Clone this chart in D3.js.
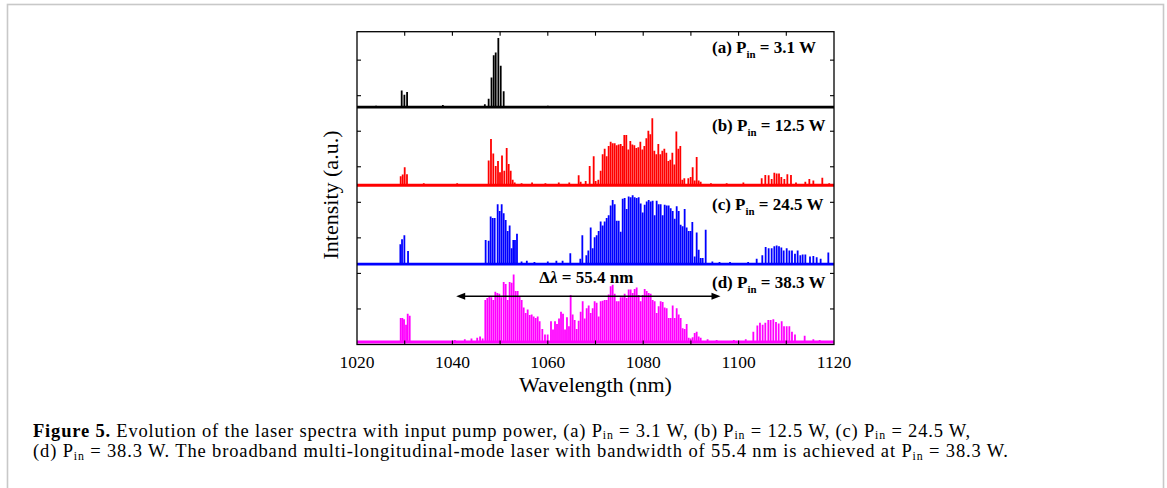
<!doctype html>
<html>
  <head>
    <script src="https://cdnjs.cloudflare.com/ajax/libs/d3/7.8.5/d3.min.js"></script>
    <style>
      body { margin: 0; background: #fff; }
      svg text { font-family: "Liberation Serif", "Times New Roman", serif; fill: #000; }
      rect.frame { fill: none; stroke: #c8c8c8; stroke-width: 1.6; }
      rect.plotbox { fill: none; stroke: #000; stroke-width: 1.3; }
      line.tick { stroke: #000; stroke-width: 1.1; }
      text.ticklabel { font-size: 17.5px; }
      text.axistitle { font-size: 22px; }
      text.panel { font-size: 17px; font-weight: bold; }
      text.caption { font-size: 18.5px; }
      line.arrow { stroke: #000; stroke-width: 1.4; }
    </style>
  </head>
  <body>
    <svg width="1167" height="488"></svg>
    <script>
      // tick labels and the four pump powers
      var xTicks = [1020, 1040, 1060, 1080, 1100, 1120];
      var panels = ["(a)", "(b)", "(c)", "(d)"];
      var pumpPower = [3.1, 12.5, 24.5, 38.3];
      var colors = ["#000000", "#ff0000", "#0000ff", "#ff00ff"];

      // longitudinal modes: [wavelength nm, relative intensity]
      var specA = [
        [1024.0, 0.02], [1038.0, 0.03], [1046.8, 0.04],
        [1029.37, 0.24], [1029.93, 0.18], [1030.5, 0.22],
        [1047.6, 0.12], [1048.2, 0.43], [1048.66, 0.75], [1049.08, 0.79],
        [1049.63, 1.0], [1050.13, 0.6], [1050.75, 0.23], [1060.0, 0.02]
      ];
      var specB = [
        [1034.0, 0.03], [1041.0, 0.03],
        [1029.16, 0.13], [1029.58, 0.155], [1030.0, 0.26], [1030.48, 0.16],
        [1047.6, 0.36], [1048.09, 0.67], [1048.57, 0.46], [1049.08, 0.28], [1049.56, 0.35],
        [1049.98, 0.19], [1050.4, 0.43], [1050.88, 0.21], [1051.38, 0.54], [1051.8, 0.31],
        [1052.22, 0.21], [1052.64, 0.08], [1053.06, 0.04],
        [1054.5, 0.03], [1056.7, 0.04], [1059.5, 0.03], [1062.3, 0.04], [1064.5, 0.04],
        [1066.47, 0.145], [1066.89, 0.05], [1067.94, 0.06], [1068.78, 0.28], [1069.62, 0.42],
        [1070.03, 0.06], [1070.59, 0.08], [1071.08, 0.21], [1071.5, 0.45], [1071.92, 0.53],
        [1072.34, 0.42], [1072.76, 0.57], [1073.18, 0.63], [1073.6, 0.61], [1074.02, 0.61],
        [1074.44, 0.58], [1074.86, 0.59], [1075.28, 0.6], [1075.7, 0.57], [1076.04, 0.73],
        [1076.46, 0.73], [1076.88, 0.52], [1077.3, 0.64], [1077.72, 0.59], [1078.14, 0.58],
        [1078.56, 0.54], [1078.98, 0.55], [1079.4, 0.63], [1079.82, 0.52], [1080.24, 0.57],
        [1080.66, 0.68], [1081.08, 0.79], [1081.49, 0.74], [1081.91, 0.97], [1082.33, 0.5],
        [1082.75, 0.45], [1083.17, 0.6], [1083.59, 0.45], [1084.01, 0.5], [1084.43, 0.53],
        [1084.85, 0.47], [1085.27, 0.35], [1085.69, 0.37], [1086.11, 0.47], [1086.53, 0.3],
        [1086.95, 0.78], [1087.37, 0.53], [1087.78, 0.57], [1088.2, 0.08], [1088.62, 0.1],
        [1089.46, 0.1], [1089.95, 0.12], [1090.37, 0.26], [1090.79, 0.07], [1091.21, 0.41],
        [1091.63, 0.07], [1092.05, 0.05], [1094.2, 0.03], [1097.5, 0.03], [1101.0, 0.04],
        [1104.84, 0.1], [1105.6, 0.15], [1106.3, 0.145], [1106.93, 0.09], [1107.49, 0.18],
        [1107.98, 0.17], [1108.47, 0.17], [1108.96, 0.12], [1109.59, 0.09], [1110.22, 0.16],
        [1110.98, 0.15], [1112.03, 0.04], [1113.99, 0.05], [1114.83, 0.09], [1115.67, 0.07],
        [1117.55, 0.11], [1119.0, 0.03]
      ];
      var specC = [
        [1029.09, 0.29], [1029.44, 0.36], [1029.93, 0.42], [1030.7, 0.19],
        [1046.97, 0.35], [1047.6, 0.34], [1048.02, 0.69], [1048.44, 0.67], [1048.86, 0.67],
        [1049.49, 0.87], [1049.91, 0.77], [1050.33, 0.87], [1050.75, 0.74], [1051.17, 0.64],
        [1051.59, 0.48], [1052.0, 0.56], [1052.42, 0.23], [1052.77, 0.35], [1053.12, 0.35],
        [1053.54, 0.44],
        [1054.5, 0.04], [1055.6, 0.05], [1057.2, 0.03], [1060.0, 0.04], [1061.8, 0.05], [1063.1, 0.05],
        [1064.72, 0.16], [1066.82, 0.08], [1067.24, 0.42], [1068.08, 0.13], [1068.5, 0.2],
        [1068.99, 0.53], [1069.41, 0.23], [1069.82, 0.39], [1070.24, 0.42], [1070.66, 0.48],
        [1071.08, 0.62], [1071.5, 0.56], [1071.92, 0.62], [1072.34, 0.67], [1072.76, 0.71],
        [1073.18, 0.85], [1073.6, 0.93], [1074.02, 0.87], [1074.44, 0.63], [1074.86, 0.63],
        [1075.28, 0.47], [1075.7, 0.95], [1076.11, 0.96], [1076.53, 0.8], [1076.95, 0.98],
        [1077.37, 0.97], [1077.79, 1.0], [1078.21, 0.97], [1078.63, 0.96], [1079.05, 0.97],
        [1079.47, 0.88], [1079.89, 0.75], [1080.31, 0.86], [1080.73, 0.91], [1081.15, 0.93],
        [1081.57, 0.91], [1081.98, 0.92], [1082.4, 0.71], [1082.82, 0.92], [1083.24, 0.87],
        [1083.66, 0.87], [1084.08, 0.71], [1084.5, 0.86], [1084.92, 0.85], [1085.34, 0.85],
        [1085.76, 0.81], [1086.18, 0.77], [1086.6, 0.66], [1087.02, 0.84], [1087.44, 0.77],
        [1087.85, 0.57], [1088.27, 0.55], [1088.69, 0.8], [1089.11, 0.53], [1089.53, 0.48],
        [1089.95, 0.48], [1090.3, 0.61], [1090.79, 0.11], [1091.21, 0.46], [1091.63, 0.21],
        [1092.05, 0.09], [1092.47, 0.09], [1093.1, 0.5],
        [1094.5, 0.04], [1096.0, 0.03], [1098.2, 0.03], [1102.0, 0.03],
        [1103.79, 0.08], [1104.97, 0.13], [1105.67, 0.25], [1106.3, 0.23], [1106.93, 0.23],
        [1107.49, 0.26], [1107.98, 0.27], [1108.47, 0.26], [1108.96, 0.24], [1109.45, 0.2],
        [1110.08, 0.23], [1110.64, 0.2], [1111.19, 0.2], [1111.82, 0.15], [1112.38, 0.2],
        [1112.94, 0.13], [1113.43, 0.14], [1113.99, 0.14], [1114.97, 0.11], [1115.67, 0.12],
        [1116.37, 0.1], [1117.2, 0.08], [1118.81, 0.17]
      ];
      var specD = [
        [1029.16, 0.35], [1029.51, 0.35], [1029.86, 0.33], [1030.28, 0.25], [1030.63, 0.41],
        [1031.05, 0.38],
        [1040.5, 0.03], [1042.6, 0.04], [1044.0, 0.05], [1045.2, 0.06], [1045.8, 0.08],
        [1046.34, 0.05], [1046.9, 0.61], [1047.32, 0.64], [1047.74, 0.66], [1048.16, 0.65],
        [1048.58, 0.61], [1049.0, 0.73], [1049.42, 0.71], [1049.84, 0.7], [1050.26, 0.65],
        [1050.75, 0.87], [1051.17, 0.84], [1051.59, 0.61], [1052.0, 0.87], [1052.42, 0.86],
        [1052.84, 0.98], [1053.26, 0.74], [1053.68, 0.74], [1054.1, 0.66], [1054.52, 0.61],
        [1054.94, 0.5], [1055.36, 0.42], [1055.78, 0.47], [1056.2, 0.39], [1056.62, 0.4],
        [1057.04, 0.37], [1057.46, 0.35], [1057.88, 0.37], [1058.29, 0.3], [1058.85, 0.19],
        [1059.41, 0.11], [1059.97, 0.11], [1060.67, 0.3], [1061.09, 0.18], [1061.51, 0.3],
        [1061.93, 0.26], [1062.35, 0.34], [1062.77, 0.44], [1063.19, 0.41], [1063.61, 0.18],
        [1064.02, 0.36], [1064.44, 0.23], [1064.79, 0.68], [1065.21, 0.4], [1065.63, 0.32],
        [1066.05, 0.19], [1066.47, 0.31], [1066.89, 0.44], [1067.31, 0.59], [1067.73, 0.34],
        [1068.15, 0.49], [1068.57, 0.53], [1068.99, 0.42], [1069.41, 0.49], [1069.82, 0.59],
        [1070.24, 0.57], [1070.66, 0.37], [1071.08, 0.59], [1071.5, 0.6], [1071.92, 0.61],
        [1072.34, 0.61], [1072.76, 0.69], [1073.18, 0.81], [1073.6, 0.83], [1074.02, 0.7],
        [1074.44, 0.59], [1074.86, 0.59], [1075.28, 0.65], [1075.7, 0.65], [1076.11, 0.7],
        [1076.53, 0.64], [1076.95, 0.76], [1077.37, 0.76], [1077.79, 0.71], [1078.21, 0.77],
        [1078.63, 0.79], [1079.05, 0.68], [1079.47, 0.59], [1079.89, 0.68], [1080.31, 0.77],
        [1080.73, 0.74], [1081.15, 0.71], [1081.57, 0.7], [1081.98, 0.61], [1082.4, 0.59],
        [1082.82, 0.42], [1083.24, 0.52], [1083.66, 0.59], [1084.08, 0.58], [1084.5, 0.5],
        [1084.92, 0.49], [1085.34, 0.35], [1085.76, 0.35], [1086.18, 0.53], [1086.6, 0.35],
        [1087.02, 0.49], [1087.44, 0.4], [1087.85, 0.35], [1088.27, 0.2], [1088.69, 0.19],
        [1089.11, 0.26], [1089.53, 0.06], [1089.95, 0.05], [1090.37, 0.07], [1090.79, 0.13],
        [1091.21, 0.15], [1091.63, 0.08], [1092.05, 0.06],
        [1093.5, 0.04], [1095.4, 0.03], [1099.0, 0.03], [1101.5, 0.04],
        [1103.09, 0.15], [1103.93, 0.24], [1104.48, 0.28], [1105.04, 0.25], [1105.6, 0.28],
        [1106.23, 0.32], [1106.72, 0.32], [1107.28, 0.33], [1107.84, 0.29], [1108.4, 0.27],
        [1109.03, 0.3], [1109.52, 0.23], [1110.08, 0.23], [1110.64, 0.23], [1111.19, 0.15],
        [1111.82, 0.11], [1113.85, 0.09], [1115.67, 0.04], [1117.0, 0.03]
      ];
      var spectra = [specA, specB, specC, specD];

      // bandwidth arrow for (d)
      var bandStart = 1040.8;
      var bandWidth = 55.4;

      drawChart();

      function drawChart() {
        var svg = d3.select("svg");
        var pL = 357, pR = 834, pT = 31.7, pB = 344.5;

        // outer page frame
        svg.append("rect").attr("class", "frame")
          .attr("x", 7.5).attr("y", 4.5).attr("width", 1156).attr("height", 520);

        var x = d3.scaleLinear().domain([1020, 1120]).range([pL, pR]);
        var y = d3.scaleLinear().domain([0, 8.8]).range([pB, pT]);

        var baseOffsets = [6.68, 4.48, 2.26, 0.07];
        var amp = 1.94;

        svg.append("clipPath").attr("id", "clip")
          .append("rect").attr("x", pL).attr("y", pT).attr("width", pR - pL).attr("height", pB - pT);

        var plot = svg.append("g").attr("clip-path", "url(#clip)");

        spectra.forEach(function (spec, i) {
          var g = plot.append("g");
          var b = baseOffsets[i];
          g.append("line")
            .attr("x1", x(1020)).attr("x2", x(1120))
            .attr("y1", y(b)).attr("y2", y(b))
            .attr("stroke", colors[i]).attr("stroke-width", 2.8);
          g.selectAll("line.mode").data(spec)
            .enter()
            .append("line")
              .attr("class", "mode")
              .attr("x1", d => x(d[0])).attr("x2", d => x(d[0]))
              .attr("y1", y(b))
              .attr("y2", d => y(b + d[1] * amp))
              .attr("stroke", colors[i])
              .attr("stroke-width", 1.8);
        });

        // plot box
        svg.append("rect").attr("class", "plotbox")
          .attr("x", pL).attr("y", pT).attr("width", pR - pL).attr("height", pB - pT);

        // inward ticks: bottom and top every 10 nm, left and right every y unit
        var minorX = d3.range(1030, 1120, 10);
        svg.selectAll("line.xb").data(minorX).enter().append("line")
          .attr("class", "tick")
          .attr("x1", d => x(d)).attr("x2", d => x(d))
          .attr("y1", pB).attr("y2", pB - 4);
        svg.selectAll("line.xt").data(minorX).enter().append("line")
          .attr("class", "tick")
          .attr("x1", d => x(d)).attr("x2", d => x(d))
          .attr("y1", pT).attr("y2", pT + 4);
        var yTicks = d3.range(1, 9);
        svg.selectAll("line.yl").data(yTicks).enter().append("line")
          .attr("class", "tick")
          .attr("x1", pL).attr("x2", pL + 4)
          .attr("y1", d => y(d)).attr("y2", d => y(d));
        svg.selectAll("line.yr").data(yTicks).enter().append("line")
          .attr("class", "tick")
          .attr("x1", pR).attr("x2", pR - 4)
          .attr("y1", d => y(d)).attr("y2", d => y(d));

        svg.selectAll("text.ticklabel").data(xTicks).enter().append("text")
          .attr("class", "ticklabel")
          .attr("x", d => x(d)).attr("y", 368)
          .attr("text-anchor", "middle")
          .text(d => d);

        svg.append("text").attr("class", "axistitle")
          .attr("x", (pL + pR) / 2).attr("y", 392)
          .attr("text-anchor", "middle")
          .text("Wavelength (nm)");
        svg.append("text").attr("class", "axistitle")
          .attr("transform", "translate(338,195) rotate(-90)")
          .attr("text-anchor", "middle")
          .text("Intensity (a.u.)");

        panels.forEach(function (p, i) {
          var t = svg.append("text").attr("class", "panel")
            .attr("x", 712).attr("y", y(baseOffsets[i]) - 54);
          rich(t, [[p + " P", false], ["in", true], [" = " + pumpPower[i] + " W", false]], 17, 0.3);
        });

        // bandwidth arrow
        var ay = 296.3;
        svg.append("line").attr("class", "arrow")
          .attr("x1", x(bandStart) + 6).attr("x2", x(bandStart + bandWidth) - 6)
          .attr("y1", ay).attr("y2", ay);
        svg.append("path")
          .attr("d", "M" + x(bandStart) + "," + ay + "l9,-3.5l0,7z");
        svg.append("path")
          .attr("d", "M" + x(bandStart + bandWidth) + "," + ay + "l-9,-3.5l0,7z");
        var bt = svg.append("text").attr("class", "panel")
          .attr("x", x(bandStart + bandWidth / 2) - 2).attr("y", 283)
          .attr("text-anchor", "middle");
        bt.append("tspan").text("\u0394");
        bt.append("tspan").attr("font-style", "italic").text("\u03bb");
        bt.append("tspan").text(" = " + bandWidth + " nm");

        // caption
        var c1 = svg.append("text").attr("class", "caption").attr("x", 33).attr("y", 436.5)
          .attr("textLength", 937).attr("lengthAdjust", "spacing");
        rich(c1, [["Figure 5.", false, true],
          [" Evolution of the laser spectra with input pump power, (a) P", false], ["in", true],
          [" = " + pumpPower[0] + " W, (b) P", false], ["in", true],
          [" = " + pumpPower[1] + " W, (c) P", false], ["in", true],
          [" = " + pumpPower[2] + " W,", false]], 18.5, 0.16);
        var c2 = svg.append("text").attr("class", "caption").attr("x", 33).attr("y", 457)
          .attr("textLength", 975).attr("lengthAdjust", "spacing");
        rich(c2, [["(d) P", false], ["in", true],
          [" = " + pumpPower[3] + " W. The broadband multi-longitudinal-mode laser with bandwidth of " + bandWidth + " nm is achieved at P", false],
          ["in", true], [" = " + pumpPower[3] + " W.", false]], 18.5, 0.16);
      }

      // text with subscripts: parts = [[text, isSub, isBold], ...]
      function rich(t, parts, size, drop) {
        var shift = 0;
        parts.forEach(function (p) {
          var ts = t.append("tspan").text(p[0]);
          var want = p[1] ? size * drop : 0;
          if (want !== shift) { ts.attr("dy", want - shift); shift = want; }
          if (p[1]) ts.attr("font-size", size * 0.64);
          if (p[2]) ts.attr("font-weight", "bold");
        });
      }
    </script>
  </body>
</html>
